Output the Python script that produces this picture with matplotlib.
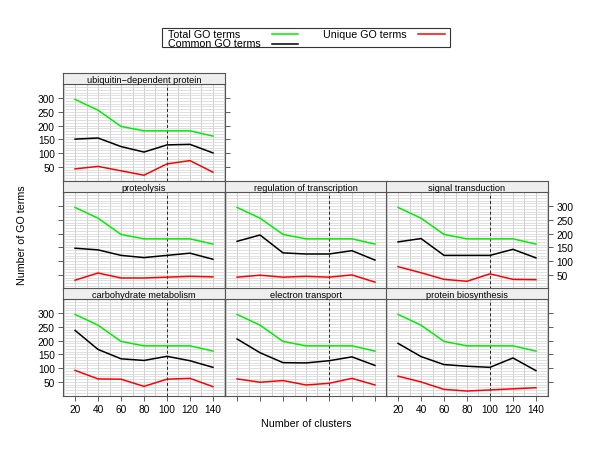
import numpy as np
import matplotlib
matplotlib.use("Agg")
import matplotlib.pyplot as plt
from matplotlib.lines import Line2D
from matplotlib.patches import Rectangle

plt.rcParams['font.family'] = ['Liberation Sans', 'DejaVu Sans']

clusters = [20, 40, 60, 80, 100, 120, 140]
total_terms = [295, 256, 197, 181, 181, 181, 162]

panel_names = ["ubiquitin\u2212dependent protein",
               "proteolysis", "regulation of transcription", "signal transduction",
               "carbohydrate metabolism", "electron transport", "protein biosynthesis"]
common_terms = [
    [151, 155, 124, 104, 130, 132, 101],
    [147, 141, 121, 113, 121, 129, 107],
    [172, 195, 130, 126, 126, 138, 104],
    [170, 182, 121, 121, 121, 143, 112],
    [237, 168, 134, 128, 143, 127, 103],
    [206, 156, 120, 119, 127, 141, 110],
    [190, 142, 113, 107, 103, 137, 91],
]
unique_terms = [
    [43, 52, 36, 20, 61, 73, 31],
    [31, 57, 39, 39, 42, 45, 43],
    [42, 49, 42, 45, 42, 50, 24],
    [80, 58, 34, 27, 54, 34, 33],
    [92, 61, 60, 34, 60, 63, 33],
    [61, 49, 55, 39, 45, 63, 39],
    [71, 50, 23, 17, 21, 25, 29],
]
# (row, col) of each panel in the 3x3 grid
panel_pos = [(0, 0), (1, 0), (1, 1), (1, 2), (2, 0), (2, 1), (2, 2)]
yticks = [50, 100, 150, 200, 250, 300]

W, H = 600, 464
fig = plt.figure(figsize=(6, 4.64), dpi=100)

col_left = [63, 225, 386]
col_w = 162
row_top = [85, 193, 300]
row_h = 97
strip_h = 11

def box(x0, y0, w, h):
    return [x0 / W, 1 - (y0 + h) / H, w / W, h / H]

frame_col = "#555555"
for k, name in enumerate(panel_names):
    r, c = panel_pos[k]
    ax = fig.add_axes(box(col_left[c], row_top[r], col_w, row_h))
    ax.set_xlim(9.5, 150.5)
    ax.set_ylim(-1, 351)
    for gx in range(10, 151, 10):
        ax.axvline(gx, color="#cfcfcf", lw=0.7, zorder=0)
    for gy in range(0, 351, 10):
        ax.axhline(gy, color="#dadada", lw=0.6, zorder=0)
    ax.axvline(100, color="#222222", lw=0.7, ls=(0, (3, 2.5)), zorder=1)
    ax.plot(clusters, total_terms, color="#00ee00", lw=1.1, zorder=2)
    ax.plot(clusters, common_terms[k], color="black", lw=1.1, zorder=2)
    ax.plot(clusters, unique_terms[k], color="#ff0000", lw=1.1, zorder=2)
    for s in ax.spines.values():
        s.set_color(frame_col)
        s.set_linewidth(0.8)
    ax.set_xticks(clusters)
    ax.set_yticks(yticks)
    ax.tick_params(direction="out", length=3.5, width=0.6, color="#444444",
                   labelsize=7.3, pad=2.5,
                   bottom=(r == 2), labelbottom=(r == 2 and c != 1),
                   top=(r == 0), labeltop=False,
                   left=(c == 0), labelleft=(c == 0 and r != 1),
                   right=(c == 2 or r == 0), labelright=(r == 1 and c == 2))
    # strip
    sx = fig.add_axes(box(col_left[c], row_top[r] - strip_h, col_w, strip_h))
    sx.set_facecolor("#eeeeee")
    sx.set_xticks([])
    sx.set_yticks([])
    for s in sx.spines.values():
        s.set_color(frame_col)
        s.set_linewidth(0.8)
    sx.text(0.5, 0.45, name, ha="center", va="center", fontsize=6.6,
            transform=sx.transAxes)

fig.text(22 / W, 1 - 235 / H, "Number of GO terms", rotation=90,
         ha="center", va="center", fontsize=7.7)
fig.text(306 / W, 1 - 424 / H, "Number of clusters",
         ha="center", va="center", fontsize=7.7)

# legend box
fig.patches.append(Rectangle((162 / W, 1 - 48 / H), 288 / W, 19 / H,
                             transform=fig.transFigure, fill=False,
                             edgecolor="#333333", lw=0.8))
fig.text(168 / W, 1 - 35 / H, "Total GO terms", va="center", fontsize=7.7)
fig.text(168 / W, 1 - 44 / H, "Common GO terms", va="center", fontsize=7.7)
fig.text(323 / W, 1 - 35 / H, "Unique GO terms", va="center", fontsize=7.7)
for x0, x1, yy, col in [(272, 298, 35, "#00ee00"), (272, 298, 45, "black"),
                        (418, 445, 35, "#ff0000")]:
    fig.add_artist(Line2D([x0 / W, x1 / W], [1 - yy / H, 1 - yy / H],
                          transform=fig.transFigure, color=col, lw=1.1))

fig.savefig("out.png", dpi=100)
